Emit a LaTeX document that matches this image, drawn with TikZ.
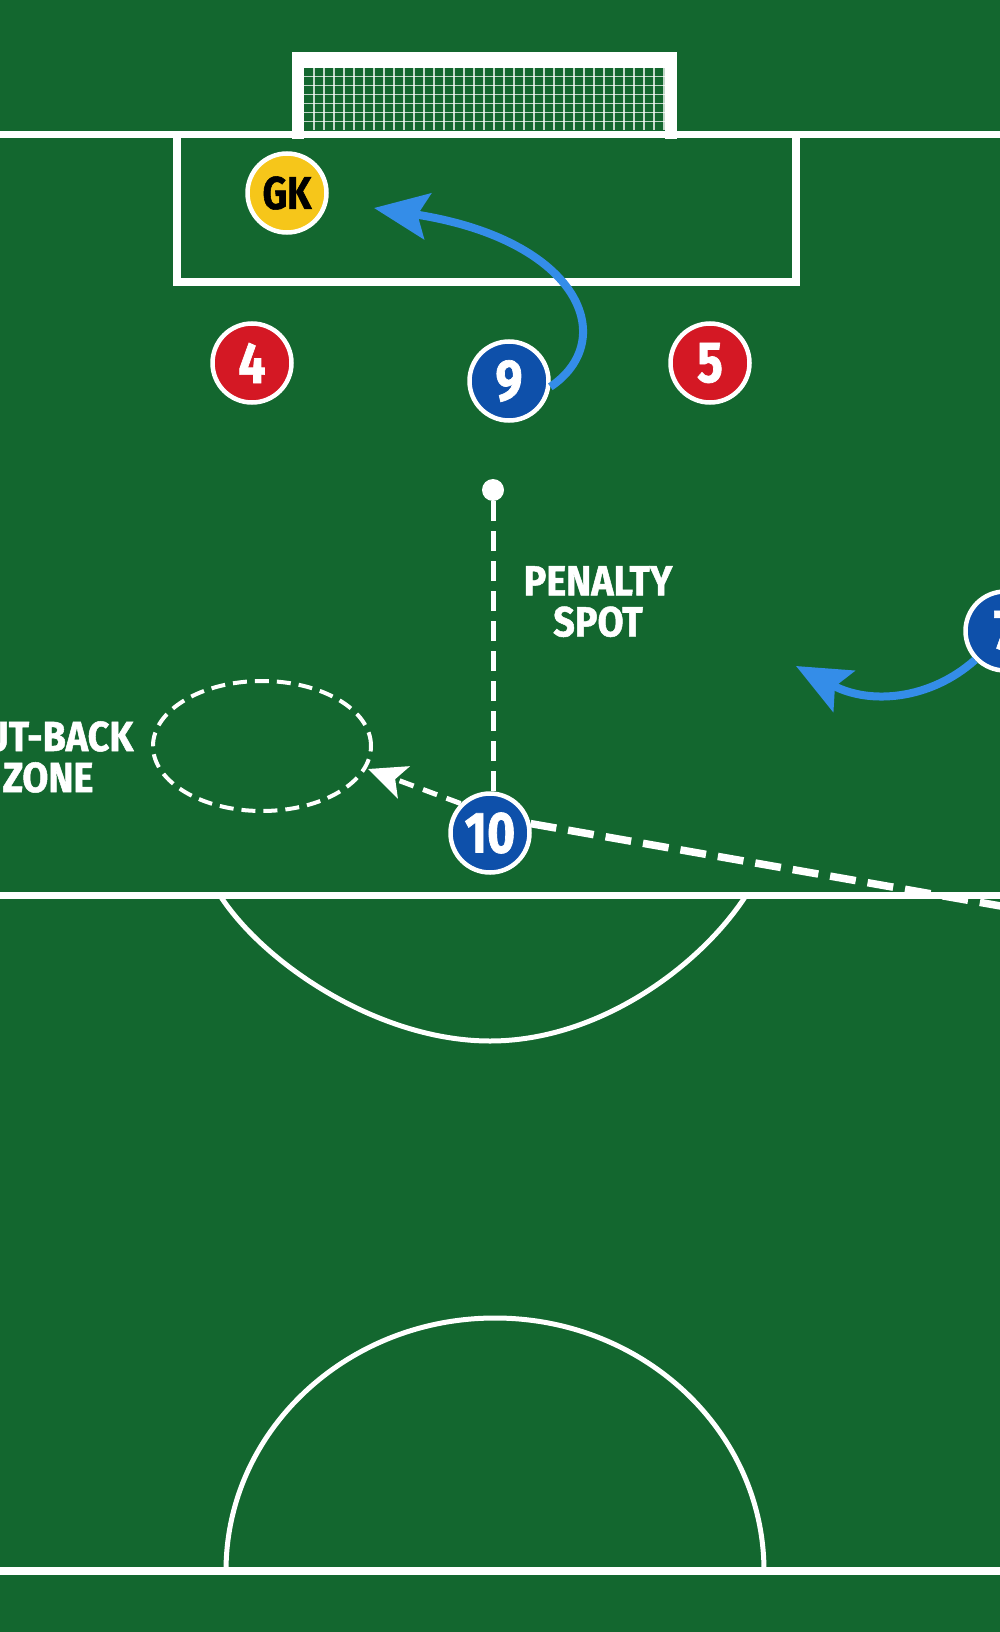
\documentclass[tikz,border=0pt]{standalone}
\usepackage{fontspec}
\newfontfamily\pfont{Fira Sans}[FakeStretch=0.83,FakeBold=1.2]
\newfontfamily\lfont{Fira Sans}[FakeStretch=0.9,FakeBold=1.2]
\usetikzlibrary{arrows.meta}
\definecolor{grass}{RGB}{19,103,47}
\definecolor{pblue}{RGB}{14,80,170}
\definecolor{pred}{RGB}{212,24,36}
\definecolor{pyellow}{RGB}{246,198,26}
\definecolor{runblue}{RGB}{52,141,232}
\begin{document}
\begin{tikzpicture}[x=1pt,y=-1pt,
  fieldline/.style={draw=white,line width=7.5pt},
  thinline/.style={draw=white,line width=5pt},
  netline/.style={draw=white,opacity=0.75,line width=1.2pt},
  player/.style={circle,draw=white,line width=4.5pt,minimum size=79pt,inner sep=0pt,text=white,font=\pfont\bfseries\fontsize{58}{58}\selectfont},
  blueP/.style={player,fill=pblue},
  redP/.style={player,fill=pred},
  gkP/.style={player,fill=pyellow,text=black,font=\pfont\bfseries\fontsize{46}{46}\selectfont},
  lbl/.style={text=white,align=center,inner sep=0pt,font=\lfont\bfseries\fontsize{42}{41}\selectfont},
  run/.style={draw=runblue,line width=8pt,-{Stealth[length=54pt,width=46pt,inset=10pt]}},
  cutback/.style={draw=white,line width=5pt,dash pattern=on 15pt off 10pt,-{Stealth[length=38pt,width=34pt,inset=9pt]}},
  spotline/.style={draw=white,line width=5pt,dash pattern=on 20pt off 10pt},
  passline/.style={draw=white,line width=7.5pt,dash pattern=on 26pt off 12pt},
  zone/.style={draw=white,line width=4pt,dash pattern=on 14pt off 8pt}
]
\useasboundingbox (0,0) rectangle (1000,1632);
\fill[grass] (0,0) rectangle (1000,1632);

% goal net
\foreach \x in {314,324,...,664} \draw[netline] (\x,68) -- (\x,130);
\foreach \y in {76.9,85.8,94.7,103.6,112.5,121.4} \draw[netline] (304,\y) -- (665,\y);
% goal frame
\fill[white] (292,52) rectangle (677,68);
\fill[white] (292,52) rectangle (304,139);
\fill[white] (665,52) rectangle (677,139);

% goal line and box
\draw[fieldline] (0,134.5) -- (1000,134.5);
\draw[fieldline] (177,134.5) -- (177,282) -- (796,282) -- (796,134.5);

% middle line and D
\draw[fieldline] (0,895.5) -- (1000,895.5);
\draw[thinline] (220,895.5) .. controls (265,965) and (380,1041) .. (490,1041)
  .. controls (600,1041) and (701,965) .. (746,895.5);

% bottom line and arc
\draw[fieldline] (0,1571) -- (1000,1571);
\draw[thinline] (226,1571) arc[start angle=180,end angle=0,x radius=269pt,y radius=253pt];

% cut-back zone
\draw[zone] (262,746) ellipse [x radius=109pt,y radius=65pt];
\coordinate (zoneR) at (368,769);

% players
\node[gkP] (gk) at (287,193) {GK};
\node[redP] (p4) at (252,363) {4};
\node[blueP] (p9) at (509,381) {9};
\node[redP] (p5) at (710,363) {5};
\node[blueP] (p10) at (490,833) {10};
\node[blueP] (p7) at (1005,631) {7};

% penalty spot
\node[circle,fill=white,minimum size=22pt,inner sep=0pt] (spot) at (493,490) {};
\node[lbl,anchor=north] (spotlbl) at (598,566) {PENALTY\\SPOT};
\node[lbl,anchor=north] (zonelbl) at (48,721) {CUT-BACK\\ZONE};

% connectors
\draw[spotline] (spot) -- (spot |- p10.north);
\draw[cutback] (p10.135) -- (zoneR);
\coordinate (farR) at (1012,908);
\draw[passline] (p10.13) -- (farR);
\draw[run] (p9.-8) .. controls (620,340) and (580,240) .. (374,208);
\draw[run] (p7.224) .. controls (930,700) and (870,705) .. (796,666);
\end{tikzpicture}
\end{document}
